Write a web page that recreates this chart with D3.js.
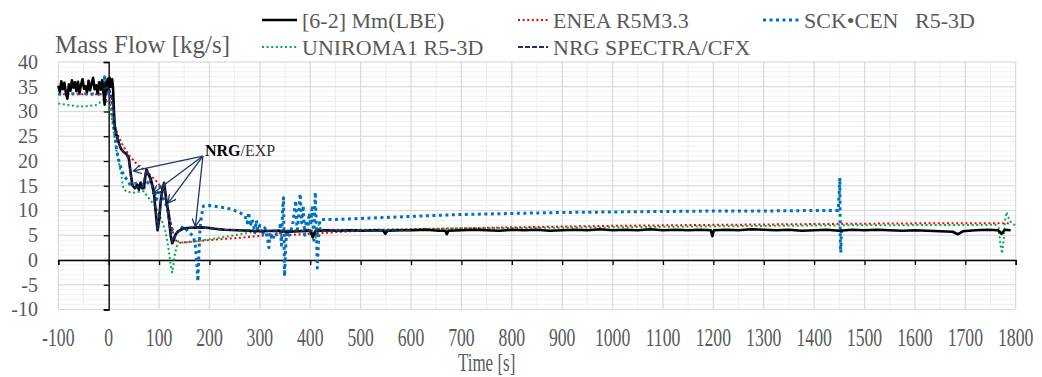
<!DOCTYPE html>
<html>
<head>
<meta charset="utf-8">
<script src="https://cdn.jsdelivr.net/npm/d3@7"></script>
<style>
  html, body { margin: 0; padding: 0; background: #fff; }
  svg { display: block; }
  text { font-family: "Liberation Serif", "Times New Roman", serif; }
</style>
</head>
<body>
<svg id="chart" width="1042" height="377"></svg>
<script>
// ---- Data: mass flow [kg/s] versus time [s] ----

// [6-2] Mm(LBE) measured
const expTime = [-100,-97,-94,-91,-88,-85,-82,-79,-76,-73,-70,-67,-64,-61,-58,-55,-52,-49,-46,-43,-40,-37,-34,-31,-28,-25,-22,-19,-16,-13,-10,-8,-6,-4,-2,0,2,4,7,9,10,12,15,19,24,30,36,40,43,47,52,57,60,63,67,70,73,75,78,83,87,90,93,97,100,103,107,110,112,115,118,120,123,126,129,133,138,143,150,163,180,196,210,230,255,280,305,330,355,380,400,405,410,430,455,480,505,530,545,549,553,580,605,630,655,668,671,674,700,725,750,775,800,825,850,875,900,925,950,975,1000,1025,1050,1075,1100,1125,1150,1175,1195,1198,1201,1225,1250,1275,1300,1325,1350,1375,1400,1425,1450,1475,1500,1525,1550,1575,1600,1625,1650,1675,1685,1695,1720,1745,1765,1772,1778,1790];
const expFlow = [35.2,34.0,36.1,34.5,35.8,33.9,32.6,35.5,34.2,36.3,34.8,35.9,34.1,36.0,33.8,35.4,36.5,34.6,35.1,33.9,36.2,34.3,35.6,36.8,34.5,35.3,33.7,35.9,34.4,36.3,33.5,31.4,35.8,34.2,36.6,34.5,36.8,35.0,36.5,34.0,31.0,27.0,25.5,24.0,22.5,21.8,21.3,20.5,18.0,15.1,14.5,15.2,14.2,15.5,14.5,14.8,17.0,18.3,17.5,16.5,15.0,13.3,10.0,6.0,8.0,11.8,14.5,15.6,14.0,11.5,10.0,8.0,5.0,3.4,4.0,5.2,5.8,6.1,6.4,6.5,6.6,6.5,6.3,6.1,6.0,5.9,5.8,5.9,5.7,5.8,5.9,4.6,5.8,6.0,5.9,6.0,5.9,6.0,5.9,5.3,5.9,6.0,6.0,6.1,5.9,5.9,5.2,5.9,6.0,6.1,6.0,5.9,6.1,6.0,6.1,5.9,6.0,6.1,6.0,6.2,6.0,6.1,6.0,6.2,6.0,6.1,6.0,6.1,6.0,4.8,6.0,6.1,6.0,6.2,6.1,6.0,6.1,5.9,6.0,6.1,5.9,6.1,6.0,6.1,6.0,5.9,6.0,5.9,5.8,5.7,5.2,5.8,6.0,6.1,6.0,5.3,6.1,6.0];

// ENEA R5M3.3
const eneaTime = [-100,-5,0,5,9,19,29,42,56,75,95,112,118,125,131,141,175,208,261,314,350,400,480,600,700,800,1000,1200,1450,1600,1790];
const eneaFlow = [33.5,33.5,33.4,30.0,28.0,25.0,23.0,21.0,19.3,17.9,15.9,13.6,10.2,6.8,4.1,3.5,3.8,4.1,4.5,5.0,5.0,5.3,5.8,6.2,6.4,6.6,6.9,7.1,7.3,7.4,7.4];

// SCK•CEN R5-3D
const sckTime = [-100,-60,-20,-12,-10,-8,-7,-6,-4,0,3,6,9,13,16,22,29,42,55,62,70,82,90,95,102,108,115,120,125,135,148,160,168,172,175,177,179,181,184,188,200,208,220,234,250,261,270,275,278,281,284,287,290,293,296,300,305,310,315,318,320,325,330,335,340,343,345,347,349,351,353,356,360,365,368,371,374,377,380,383,386,389,392,395,398,401,404,407,410,412,414,416,418,420,450,500,550,600,650,700,800,900,1000,1100,1200,1300,1400,1448,1450,1451,1452,1453,1454];
const sckFlow = [33.5,33.6,33.5,33.6,34.0,37.0,31.5,36.0,33.5,34.0,33.5,32.4,28.0,24.7,22.0,19.3,17.3,15.3,15.5,15.9,14.5,16.3,14.0,12.2,14.9,12.5,10.9,8.5,6.2,5.5,6.8,5.5,4.8,3.0,-1.0,-4.3,1.0,6.0,8.8,10.9,11.0,10.9,10.7,10.5,10.0,9.5,9.0,7.5,9.6,6.8,8.2,7.5,5.5,8.0,6.0,7.0,5.0,6.5,4.5,2.5,5.5,4.0,5.5,5.0,7.0,3.0,10.0,12.6,-3.3,2.0,6.0,4.5,5.5,7.0,9.5,12.0,5.5,9.0,13.4,7.5,11.0,5.0,8.0,6.0,9.5,7.0,11.0,4.0,13.7,7.0,-1.6,3.0,7.0,8.2,8.2,8.4,8.6,8.8,9.0,9.2,9.4,9.6,9.7,9.8,9.9,9.9,10.0,10.0,14.0,16.6,3.0,1.5,6.0];

// UNIROMA1 R5-3D
const uniTime = [-100,-80,-60,-40,-25,-15,-8,-3,0,6,9,13,17,24,29,35,49,69,82,92,102,112,118,123,126,129,132,138,148,175,221,261,294,350,400,407,411,414,417,422,500,700,1000,1200,1450,1760,1766,1770,1773,1776,1779,1782,1786,1791,1800];
const uniFlow = [31.6,31.3,31.0,31.1,31.3,32.0,32.5,32.0,31.4,28.7,26.4,23.7,21.0,17.9,14.5,13.8,13.6,13.9,12.2,10.9,8.8,6.2,2.8,-1.0,-2.5,-0.5,1.5,3.8,3.5,3.8,4.5,5.2,5.8,5.9,6.0,5.5,4.5,6.5,7.2,6.1,6.1,6.4,6.6,6.8,7.0,7.1,6.5,3.0,1.3,4.0,8.0,9.7,8.5,7.5,7.0];

// NRG SPECTRA/CFX
const nrgTime = [-10,0,5,9,12,15,19,24,30,36,40,44,48,55,62,68,72,75,80,86,90,94,97,101,105,110,114,118,122,126,130,136,145,160,190,230,300,420,600];
const nrgFlow = [34.5,35.0,33.0,31.0,27.0,25.5,24.0,22.5,21.8,21.3,20.5,17.0,14.8,14.6,15.0,14.8,17.0,18.3,17.0,15.0,13.2,9.5,6.3,9.0,13.0,15.5,12.5,9.5,6.0,3.6,4.5,5.6,6.2,6.5,6.5,6.1,5.9,5.9,6.0];

// Axis ticks
const xTicks = d3.range(-100, 1801, 100);
const yTicks = d3.range(-10, 41, 5);

// ---- Layout ----
const svg = d3.select("#chart");
const x = d3.scaleLinear().domain([-100, 1800]).range([58.3, 1015.7]);
const y = d3.scaleLinear().domain([-10, 40]).range([309.5, 62]);
const textColor = "#595959";

// Gridlines: minor first, then major
const grid = svg.append("g");
grid.selectAll(".hmin").data(d3.range(-10, 41, 1)).join("line")
  .attr("x1", x(-100)).attr("x2", x(1800))
  .attr("y1", d => y(d)).attr("y2", d => y(d))
  .attr("stroke", "#f0f0f0").attr("stroke-width", 1);
grid.selectAll(".vmin").data(d3.range(-50, 1800, 100)).join("line")
  .attr("y1", y(40)).attr("y2", y(-10))
  .attr("x1", d => x(d)).attr("x2", d => x(d))
  .attr("stroke", "#eeeeee").attr("stroke-width", 1);
grid.selectAll(".hmaj").data(yTicks).join("line")
  .attr("x1", x(-100)).attr("x2", x(1800))
  .attr("y1", d => y(d)).attr("y2", d => y(d))
  .attr("stroke", "#d9d9d9").attr("stroke-width", 1.2);
grid.selectAll(".vmaj").data(xTicks).join("line")
  .attr("y1", y(40)).attr("y2", y(-10))
  .attr("x1", d => x(d)).attr("x2", d => x(d))
  .attr("stroke", "#d9d9d9").attr("stroke-width", 1.2);

// Axes through the origin
const yAxis = d3.axisLeft(y).tickValues(yTicks).tickSize(5).tickFormat("");
svg.append("g").attr("transform", `translate(${x(0)},0)`).call(yAxis)
  .call(g => g.selectAll("path,line").attr("stroke", "#000").attr("stroke-width", 1.3));
const xAxis = d3.axisBottom(x).tickValues(xTicks).tickSize(5).tickFormat("");
svg.append("g").attr("transform", `translate(0,${y(0)})`).call(xAxis)
  .call(g => g.selectAll("path,line").attr("stroke", "#000").attr("stroke-width", 1.3));

// Tick labels at the plot edges
svg.append("g").selectAll("text").data(yTicks).join("text")
  .attr("x", 38).attr("y", d => y(d)).attr("dy", "0.34em")
  .attr("text-anchor", "end").attr("font-size", 20).attr("fill", textColor)
  .text(d => d);
svg.append("g").selectAll("text").data(xTicks).join("text")
  .attr("transform", d => `translate(${x(d)},346) scale(0.68,1)`)
  .attr("text-anchor", "middle").attr("font-size", 26).attr("fill", textColor)
  .text(d => d);

// Axis titles
svg.append("text").attr("x", 55).attr("y", 53).attr("font-size", 25)
  .attr("fill", textColor).text("Mass Flow [kg/s]");
svg.append("text").attr("transform", `translate(${x(750)},371) scale(0.68,1)`)
  .attr("text-anchor", "middle").attr("font-size", 25).attr("fill", textColor)
  .text("Time [s]");

// Series
const series = [
  { name: "ENEA R5M3.3", t: eneaTime, v: eneaFlow, color: "#ff0000", width: 2, dash: "2,2.6" },
  { name: "UNIROMA1 R5-3D", t: uniTime, v: uniFlow, color: "#00b050", width: 2, dash: "2,2.6" },
  { name: "SCK•CEN   R5-3D", t: sckTime, v: sckFlow, color: "#0070c0", width: 3, dash: "3,3.5" },
  { name: "[6-2] Mm(LBE)", t: expTime, v: expFlow, color: "#000000", width: 2.6, dash: null },
  { name: "NRG SPECTRA/CFX", t: nrgTime, v: nrgFlow, color: "#1f2f6a", width: 2, dash: "5,2" }
];
const line = d3.line().x(d => x(d[0])).y(d => y(d[1]));
series.forEach(s => {
  svg.append("path")
    .datum(d3.zip(s.t, s.v))
    .attr("d", line)
    .attr("fill", "none")
    .attr("stroke", s.color)
    .attr("stroke-width", s.width)
    .attr("stroke-dasharray", s.dash)
    .attr("stroke-linejoin", "round");
});

// Legend
const legendItems = [
  { s: series[3], lx: 262, ly: 20, len: 35 },
  { s: series[0], lx: 518, ly: 20, len: 30 },
  { s: series[2], lx: 763, ly: 20, len: 36 },
  { s: series[1], lx: 262, ly: 47, len: 35 },
  { s: series[4], lx: 518, ly: 47, len: 30 }
];
const legend = svg.append("g");
legendItems.forEach(it => {
  legend.append("line")
    .attr("x1", it.lx).attr("x2", it.lx + it.len)
    .attr("y1", it.ly).attr("y2", it.ly)
    .attr("stroke", it.s.color).attr("stroke-width", it.s.width)
    .attr("stroke-dasharray", it.s.dash);
  legend.append("text")
    .attr("x", it.lx + it.len + 5).attr("y", it.ly + 8)
    .attr("font-size", 22).attr("fill", textColor)
    .attr("xml:space", "preserve").style("white-space", "pre")
    .text(it.s.name);
});

// Annotation: NRG/EXP comparison arrows
const navy = "#1f3864";
const defs = svg.append("defs");
defs.append("marker").attr("id", "openArrow")
  .attr("viewBox", "0 0 10 10").attr("refX", 9).attr("refY", 5)
  .attr("markerWidth", 9).attr("markerHeight", 9).attr("orient", "auto")
  .attr("markerUnits", "userSpaceOnUse")
  .append("path").attr("d", "M0,0 L9,5 L0,10").attr("fill", "none")
  .attr("stroke", navy).attr("stroke-width", 1.4);
const apex = { t: 187, v: 21 };
const arrowTargets = [
  { t: 49, v: 18.0 },
  { t: 88, v: 13.5 },
  { t: 118, v: 11.5 },
  { t: 172, v: 6.8 }
];
svg.append("g").selectAll("line").data(arrowTargets).join("line")
  .attr("x1", x(apex.t)).attr("y1", y(apex.v))
  .attr("x2", d => x(d.t)).attr("y2", d => y(d.v))
  .attr("stroke", navy).attr("stroke-width", 1.3)
  .attr("marker-end", "url(#openArrow)");
const ann = svg.append("text").attr("x", 205).attr("y", 156).attr("font-size", 16).attr("fill", "#000");
ann.append("tspan").attr("font-weight", "bold").text("NRG");
ann.append("tspan").attr("fill", "#333").text("/EXP");
</script>
</body>
</html>
